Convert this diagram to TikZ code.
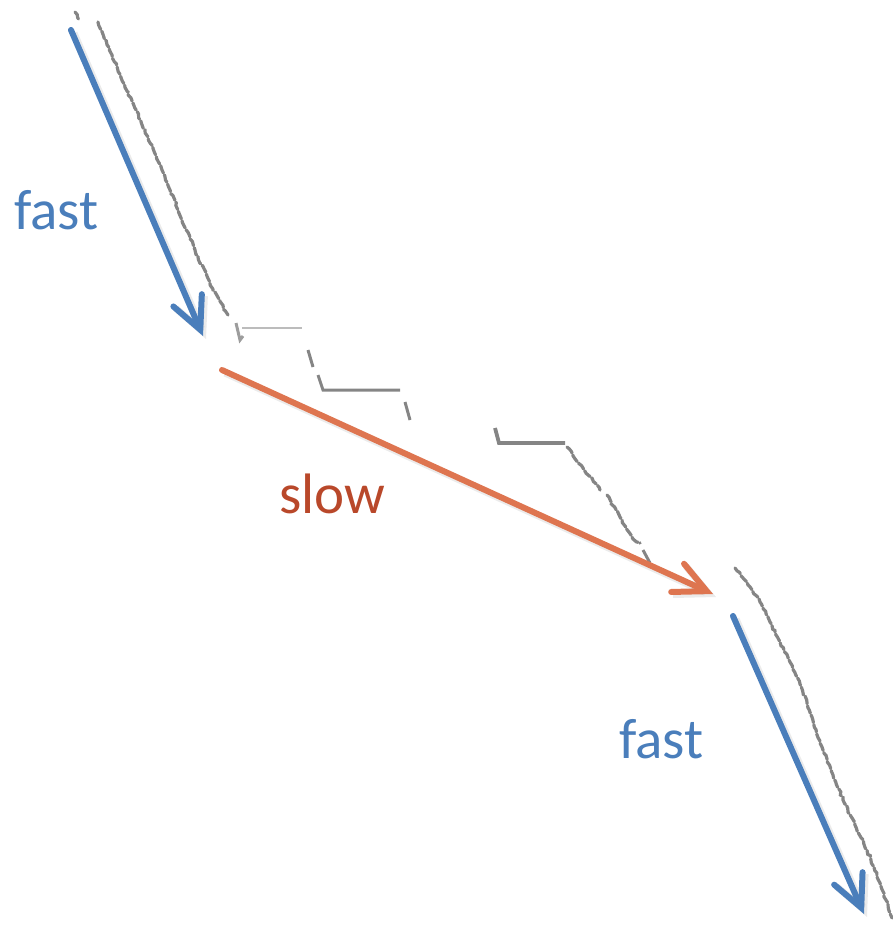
\documentclass[tikz,border=0pt]{standalone}
\usepackage{fontspec}
\setmainfont{Carlito}
\usetikzlibrary{arrows.meta,decorations.pathmorphing}

\definecolor{fastblue}{HTML}{4A7EBB}
\definecolor{slowline}{HTML}{DE7550}
\definecolor{slowtext}{HTML}{B9482A}
\definecolor{tracegray}{HTML}{858585}

\tikzset{
  arrowline/.style={line width=6pt, line cap=round,
    -{Straight Barb[length=32pt,width=31pt,line cap=round]}},
  arrowshadow/.style={line width=7pt, draw=black, opacity=0.08,
    -{Straight Barb[length=32pt,width=31pt]}},
  trace/.style={draw=tracegray, line width=3.2pt, line cap=round,
    decorate, decoration={random steps, segment length=3.5pt, amplitude=1pt},
    dash pattern=on 8pt off 2pt},
  ledge/.style={draw=tracegray, line width=3pt},
  label/.style={anchor=base west, inner sep=0pt, font=\fontsize{57}{66}\selectfont}
}

\begin{document}
\begin{tikzpicture}[x=1pt,y=-1pt]
\pgfmathsetseed{4}
\useasboundingbox (0,0) rectangle (892,940);

% end points of the three arrows
\coordinate (f1s) at (71,30);
\coordinate (f1e) at (203,336);
\coordinate (ss) at (222,370);
\coordinate (se) at (713,594);
\coordinate (f2s) at (733,616);
\coordinate (f2e) at (864,914);

% ragged grey trace: steep run, plateaus, steep run
\draw[trace] (75,12) -- (79,20);
\draw[trace] (98,22) -- (112,55) -- (128,92) -- (145,130) -- (162,170)
  -- (178,210) -- (195,250) -- (213,290) -- (228,315);
\draw[ledge, draw=tracegray!80] (236,323) -- (240,340) -- (243,336);
\draw[ledge, draw=tracegray!55, line width=2.2pt] (242,328) -- (302,328);
\draw[ledge] (308,350) -- (313,367);
\draw[ledge] (318,375) -- (323,390) -- (400,390);
\draw[ledge] (405,402) -- (410,420);
\draw[ledge, line width=3.8pt] (495,428) -- (499,443) -- (565,443);
\draw[trace] (567,447) -- (583,468) -- (600,490);
\draw[trace] (607,495) -- (620,517) -- (633,539) -- (640,543);
\draw[ledge] (643,550) -- (650,563);
\draw[trace] (735,568) -- (748,585) -- (760,602) -- (770,622) -- (780,642)
  -- (790,662) -- (800,684) -- (812,717) -- (823,750) -- (833,775)
  -- (843,800) -- (855,825) -- (867,850) -- (874,867) -- (880,883)
  -- (886,900) -- (892,918);

% soft shadows under the arrows
\draw[arrowshadow] ([shift={(3,3)}]f1s) -- ([shift={(3,3)}]f1e);
\draw[arrowshadow] ([shift={(3,3)}]ss) -- ([shift={(3,3)}]se);
\draw[arrowshadow] ([shift={(3,3)}]f2s) -- ([shift={(3,3)}]f2e);

% arrows
\draw[arrowline, draw=fastblue] (f1s) -- (f1e);
\draw[arrowline, draw=slowline] (ss) -- (se);
\draw[arrowline, draw=fastblue] (f2s) -- (f2e);

% labels
\node[label, text=fastblue] (fast1) at (14,229) {fast};
\node[label, text=slowtext] (slow) at (279,513) {slow};
\node[label, text=fastblue] (fast2) at (619,758) {fast};
\end{tikzpicture}
\end{document}
